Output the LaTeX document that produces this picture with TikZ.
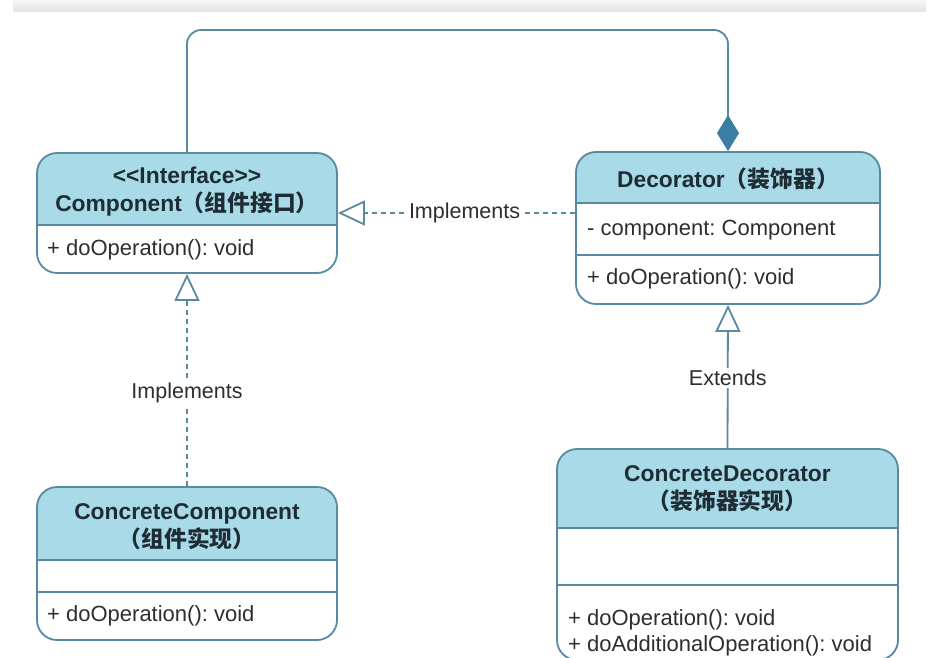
\documentclass[tikz,border=0pt]{standalone}
\usepackage{fontspec}
\setmainfont{Liberation Sans}
\newfontfamily\cjk{Noto Sans CJK SC}
\usetikzlibrary{arrows.meta}
\definecolor{strokec}{HTML}{5A8AA1}
\definecolor{hdr}{HTML}{A9DAE8}
\definecolor{diam}{HTML}{3C7DA4}
\definecolor{ttl}{HTML}{1E2C34}
\definecolor{bodyc}{HTML}{2E2E2E}
\begin{document}
\frenchspacing
\begin{tikzpicture}[x=1pt,y=-1pt,
  classbox/.style={draw=strokec, line width=1.8pt, rounded corners=20pt, inner sep=0pt},
  divider/.style={draw=strokec, line width=1.8pt},
  titletext/.style={font=\fontsize{22.8}{28}\selectfont\bfseries, text=ttl, align=center, inner sep=0pt},
  bodytext/.style={font=\fontsize{22}{26}\selectfont\frenchspacing, text=bodyc, align=left, anchor=west, inner sep=0pt},
  conn/.style={draw=strokec, line width=1.8pt},
  dashconn/.style={conn, dash pattern=on 5pt off 4pt},
  realize/.style={-{Triangle[length=27pt, width=25pt, fill=white, line width=1.8pt]}},
  lbl/.style={fill=white, text=bodyc, font=\fontsize{21.5}{24}\selectfont, inner sep=2pt}
]
\useasboundingbox (0,0) rectangle (950,658);
\clip (0,0) rectangle (950,658);
\fill[white] (0,0) rectangle (950,658);
\shade[top color=gray!7, bottom color=gray!22] (13,0) rectangle (926,12);

% header fills
\begin{scope}\clip (37,153) rectangle (337,225);
  \fill[hdr, rounded corners=20pt] (37,153) rectangle (337,273);\end{scope}
\begin{scope}\clip (576,152) rectangle (880,203);
  \fill[hdr, rounded corners=20pt] (576,152) rectangle (880,304);\end{scope}
\begin{scope}\clip (37,487) rectangle (337,560);
  \fill[hdr, rounded corners=20pt] (37,487) rectangle (337,640);\end{scope}
\begin{scope}\clip (557,449) rectangle (898,528);
  \fill[hdr, rounded corners=20pt] (557,449) rectangle (898,660);\end{scope}

% class boxes
\node[classbox, minimum width=300pt, minimum height=120pt] (comp) at (187,213) {};
\node[classbox, minimum width=304pt, minimum height=152pt] (dec) at (728,228) {};
\node[classbox, minimum width=300pt, minimum height=153pt] (ccomp) at (187,563.5) {};
\node[classbox, minimum width=341pt, minimum height=211pt] (cdec) at (727.5,554.5) {};

% dividers
\draw[divider] (comp.west |- 0,225) -- (comp.east |- 0,225);
\draw[divider] (dec.west |- 0,203) -- (dec.east |- 0,203);
\draw[divider] (dec.west |- 0,255) -- (dec.east |- 0,255);
\draw[divider] (ccomp.west |- 0,560) -- (ccomp.east |- 0,560);
\draw[divider] (ccomp.west |- 0,592) -- (ccomp.east |- 0,592);
\draw[divider] (cdec.west |- 0,528) -- (cdec.east |- 0,528);
\draw[divider] (cdec.west |- 0,585) -- (cdec.east |- 0,585);

% texts
\node[titletext] (compT) at (187,192) {{<}{<}Interface{>}{>}\\Component{\cjk（组件接口）}};
\node[titletext] (decT) at (728,179) {Decorator{\cjk（装饰器）}};
\node[titletext] (ccompT) at (187,527) {ConcreteComponent\\{\cjk（组件实现）}};
\node[titletext] (cdecT) at (727.5,489) {ConcreteDecorator\\{\cjk（装饰器实现）}};
\node[bodytext] (compB) at (47,250) {+ doOperation(): void};
\node[bodytext] (decA) at (587,230) {- component: Component};
\node[bodytext] (decB) at (587,279) {+ doOperation(): void};
\node[bodytext] (ccompB) at (47,616) {+ doOperation(): void};
\node[bodytext] (cdecB) at (568,633) {+ doOperation(): void\\+ doAdditionalOperation(): void};

% connectors
\draw[conn, rounded corners=14pt, -{Diamond[length=36pt, width=22pt, fill=diam, color=diam, line width=1pt]}]
  (comp.north) -- (comp.north |- 0,30) -- (dec.north |- 0,30) -- (dec.north);
\draw[dashconn, realize] (dec.west |- comp.east) -- node[lbl, pos=0.466] (l1) {Implements} (comp.east);
\draw[dashconn, realize] (ccomp.north) -- node[lbl, pos=0.44] (l2) {Implements} (comp.south);
\draw[conn, realize] (cdec.north) -- node[lbl, pos=0.49] (l3) {Extends} (dec.south);
\end{tikzpicture}
\end{document}
